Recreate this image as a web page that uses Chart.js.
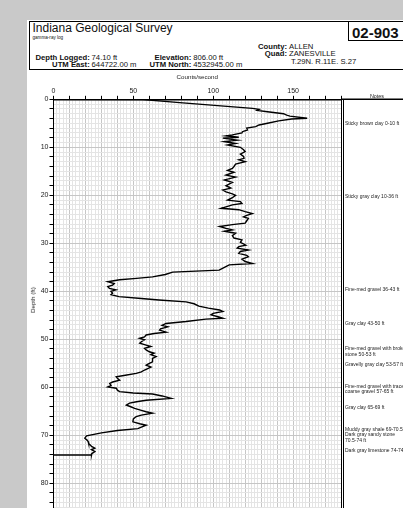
<!DOCTYPE html>
<html><head><meta charset="utf-8">
<script src="https://cdn.jsdelivr.net/npm/chart.js@4"></script>
<style>
html,body{margin:0;padding:0;width:403px;height:508px;overflow:hidden;background:#c9c9c9;font-family:"Liberation Sans",Arial,sans-serif;}
#page{position:absolute;left:27px;top:20px;width:500px;height:600px;background:#fff;}
#hdr{position:absolute;left:29px;top:21px;width:460px;height:49px;border:1.5px solid #000;box-sizing:border-box;}
#idbox{position:absolute;left:348px;top:21px;width:120px;height:20px;border:1.5px solid #000;box-sizing:border-box;}
.t{position:absolute;white-space:nowrap;color:#111;line-height:1;}
.s{font-size:7.7px;}
.b{font-weight:bold;}
#cv{position:absolute;left:0;top:0;}
#ytitle{position:absolute;left:33px;top:300px;font-size:6.2px;color:#222;white-space:nowrap;line-height:1;transform:translate(-50%,-50%) rotate(-90deg);}
</style>
</head><body>
<div id="page"></div>
<div id="hdr"></div>
<div id="idbox"></div>
<div class="t" style="left:32.5px;top:21.8px;font-size:12px;">Indiana Geological Survey</div>
<div class="t" style="left:32.5px;top:36.1px;font-size:4.6px;">gamma-ray log</div>
<div class="t s b" style="right:313.3px;top:53.5px;">Depth Logged:</div>
<div class="t s" style="left:91.6px;top:53.5px;">74.10 ft</div>
<div class="t s b" style="right:313.3px;top:61px;">UTM East:</div>
<div class="t s" style="left:91.6px;top:61px;">644722.00 m</div>
<div class="t s b" style="right:211.7px;top:53.5px;">Elevation:</div>
<div class="t s" style="left:193.2px;top:53.5px;">806.00 ft</div>
<div class="t s b" style="right:211.7px;top:61px;">UTM North:</div>
<div class="t s" style="left:193.2px;top:61px;">4532945.00 m</div>
<div class="t s b" style="right:116px;top:42.5px;">County:</div>
<div class="t s" style="left:289px;top:42.5px;">ALLEN</div>
<div class="t s b" style="right:116px;top:50px;">Quad:</div>
<div class="t s" style="left:289px;top:50px;">ZANESVILLE</div>
<div class="t s" style="left:291px;top:57.5px;">T.29N. R.11E. S.27</div>
<div class="t b" style="left:352px;top:24.8px;font-size:15px;">02-903</div>
<canvas id="cv" width="403" height="560" style="width:403px;height:560px;"></canvas>
<div id="ytitle">Depth (ft)</div>
<script>
// ---- data ----
const depthFt = [0.0,0.05,0.7,1.9,2.1,2.3,2.6,3.0,3.3,3.5,3.96,4.1,4.5,5.0,5.35,5.7,6.0,6.4,6.75,7.0,7.4,7.6,7.9,8.1,8.5,8.8,9.2,9.5,10.0,10.5,10.9,11.4,11.9,12.3,12.6,13.0,13.5,14.0,14.4,14.8,15.2,15.8,16.2,16.8,17.3,18.0,18.5,18.9,19.3,19.7,20.0,20.5,21.0,21.3,21.7,22.0,22.4,22.7,23.0,23.4,23.8,24.2,24.5,24.8,25.3,25.8,26.1,26.5,26.9,27.2,27.5,27.9,28.4,28.9,29.3,29.8,30.4,30.7,31.0,31.4,31.7,32.1,32.5,32.8,33.3,33.8,34.2,34.5,35.0,35.6,36.0,36.5,37.0,37.3,37.6,38.0,38.4,38.7,39.0,39.4,39.7,40.0,40.4,40.7,41.1,41.5,41.8,42.2,42.6,43.1,43.5,43.9,44.2,44.6,44.9,45.3,45.6,45.8,46.3,46.7,47.1,47.4,47.8,48.1,48.5,48.8,49.1,49.5,49.8,50.1,50.5,50.8,51.2,51.5,51.9,52.2,52.6,52.9,53.2,53.6,54.0,54.3,54.7,55.0,55.4,55.8,56.1,56.4,56.8,57.1,57.5,57.8,58.1,58.5,58.9,59.2,59.6,59.9,60.2,60.6,60.9,61.2,61.4,61.8,62.3,62.7,63.0,63.3,63.7,64.0,64.4,64.8,65.1,65.4,65.8,66.1,66.6,67.2,67.6,67.9,68.3,68.6,69.0,69.5,70.1,70.6,71.0,71.3,71.7,72.0,72.3,72.7,73.0,73.4,73.8,74.1,74.1];
const countsPerSec = [0,56,79,124.6,128.7,127.5,134,144,146,148,158.8,149,141,134,128.7,126.6,121,121.4,118.3,118,112,108,116,106,115,107,114,109,117,119,120,117,119,119.3,116,120,114,113,112,109,113,108,114,107,112,108,111,106,108,112,114,112,109,117,118,112,108,105,116,120,124.5,121,119,122,121,120,112,104,108,112,107,114,112,113,118,117,120.4,116,115,122,117,116,121,122,118,120,124.5,110,107,103.7,74.6,70,62,52,41.4,34,38,37,34,35,39,36,37,36,41,55,66,83,88,91,97,104,106,100,98.6,103,106,95.4,83,70.5,68,71.5,67,66.4,70.5,63,58,57,53.9,57,55,54,58,61,57,58,60,63,61,64.3,62,62,62,60,58,61,59,57,55,51.8,45,39.3,40,41.4,37,35.2,36,34,39.3,40,41.4,50,62,68,73.6,58,52,47.6,45.6,48,50.8,55,58,62,55,51.8,50,49.7,54,58,55,52.8,40,30,20.7,19.6,21,21.7,22,23,23.8,25.9,23.8,25.9,24,23.8,0];
const xTickLabels = [0,50,100,150];
const yTickLabels = [0,10,20,30,40,50,60,70,80,90];
const noteTexts = ["Sticky brown clay 0-10 ft","Sticky gray clay 10-36 ft","Fine-med gravel 36-43 ft","Gray clay 43-50 ft","Fine-med gravel with broken","stone 50-53 ft","Gravelly gray clay 53-57 ft","Fine-med gravel with trace","coarse gravel 57-65 ft","Gray clay 65-69 ft","Muddy gray shale 69-70.5 ft","Dark gray sandy stone","70.5-74 ft","Dark gray limestone 74-74.1 ft"];
const noteDepths = [5.0,20.3,39.7,46.7,51.9,53.1,55.2,59.9,61.0,64.2,68.9,69.9,71.1,73.2];

const notesPlugin = {
  id:'notes',
  afterDraw(chart){
    const {ctx, chartArea:a, scales} = chart;
    const y = scales.y;
    ctx.save();
    ctx.strokeStyle='#000';
    ctx.lineWidth=1;
    const rx = Math.round(a.right);
    ctx.beginPath();
    ctx.moveTo(rx+0.5, a.top); ctx.lineTo(rx+0.5, chart.height);
    ctx.moveTo(rx+2.5, a.top); ctx.lineTo(rx+2.5, chart.height);
    ctx.stroke();
    ctx.lineWidth=1.5;
    ctx.beginPath(); ctx.moveTo(a.right, a.top); ctx.lineTo(chart.width, a.top); ctx.stroke();
    ctx.fillStyle='#222';
    ctx.font='5.4px "Liberation Sans", Arial, sans-serif';
    ctx.textAlign='center'; ctx.textBaseline='alphabetic';
    ctx.fillText('Notes', 377, 97.5);
    ctx.font='5px "Liberation Sans", Arial, sans-serif';
    ctx.textAlign='left'; ctx.textBaseline='middle';
    noteTexts.forEach((t,i)=>ctx.fillText(t, a.right+4, y.getPixelForValue(noteDepths[i])));
    ctx.restore();
  }
};

const points = depthFt.map((d,i)=>({x:countsPerSec[i], y:d}));
const minor='#e4e4e4', major='#c6c6c6';
new Chart(document.getElementById('cv'), {
  type:'scatter',
  data:{datasets:[{data:points, showLine:true, borderColor:'#000', borderWidth:1.4, pointRadius:0, fill:false, tension:0}]},
  options:{
    responsive:false, animation:false, devicePixelRatio:1,
    layout:{padding:{top:72,left:28,right:62,bottom:28.7}},
    plugins:{legend:{display:false},tooltip:{enabled:false}},
    scales:{
      x:{type:'linear', position:'top', min:0, max:180,
        afterFit(s){ s.height=27.3; },
        ticks:{stepSize:2, autoSkip:false, maxRotation:0, minRotation:0, padding:1,
          font:{size:7, family:'"Liberation Sans", Arial, sans-serif'}, color:'#222',
          callback:v=>xTickLabels.includes(v)?String(v):''},
        grid:{color:c=>(c.tick && c.tick.value%10===0)?major:minor,
          tickColor:c=>(c.tick && c.tick.value%10===0)?'#000':'rgba(0,0,0,0)',
          tickLength:3.5, lineWidth:1},
        border:{display:true, color:'#000', width:1.5},
        title:{display:true, text:'Counts/second', color:'#222',
          font:{size:6.2, family:'"Liberation Sans", Arial, sans-serif'}, padding:{top:2,bottom:0}}
      },
      y:{type:'linear', reverse:true, min:0, max:90,
        afterFit(s){ s.width=25.5; },
        ticks:{stepSize:1, autoSkip:false, padding:1,
          font:{size:7, family:'"Liberation Sans", Arial, sans-serif'}, color:'#222',
          callback:v=>yTickLabels.includes(v)?String(v):''},
        grid:{color:c=>(c.tick && c.tick.value%10===0)?major:minor,
          tickColor:c=>(c.tick && c.tick.value%2===0)?'#000':'rgba(0,0,0,0)',
          tickLength:4, lineWidth:1},
        border:{display:true, color:'#000', width:1}
      }
    }
  },
  plugins:[notesPlugin]
});
</script>
</body></html>
